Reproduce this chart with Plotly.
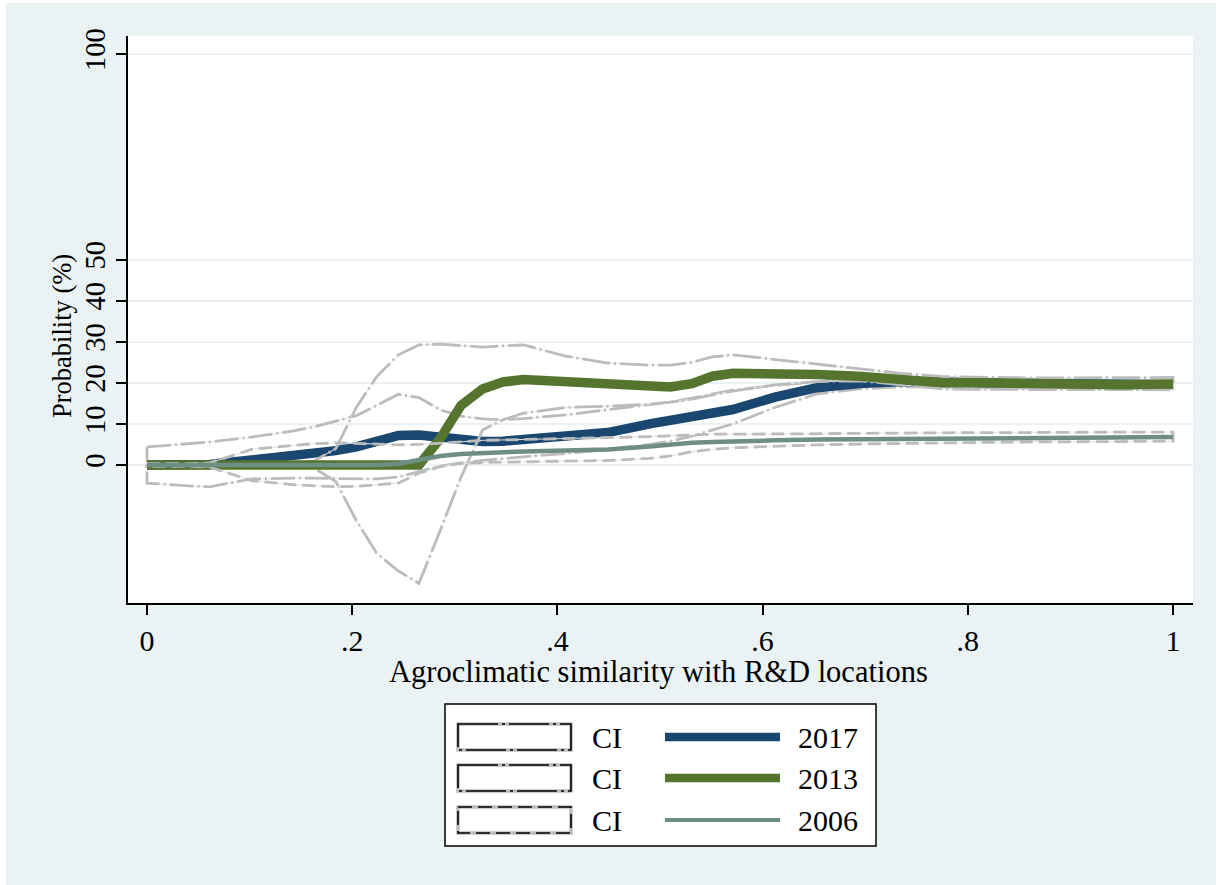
import plotly.graph_objects as go

# Agroclimatic similarity grid (x) shared by all series
X = [0, 0.041, 0.061, 0.102, 0.143, 0.163, 0.184, 0.204, 0.224, 0.245, 0.265,
     0.286, 0.306, 0.327, 0.347, 0.367, 0.408, 0.449, 0.490, 0.510, 0.531,
     0.551, 0.571, 0.612, 0.653, 0.694, 0.735, 0.776, 0.816, 0.857, 0.898,
     0.949, 1.0]

# Predicted probability (%) by year
P2017 = [0, 0, 0.1, 1.2, 2.2, 2.8, 3.5, 4.4, 5.5, 7.2, 7.3,
         6.6, 6.0, 5.7, 5.8, 6.3, 7.0, 7.9, 10.0, 10.8, 11.7,
         12.5, 13.5, 16.5, 18.8, 19.8, 20.3, 20.2, 20.0, 19.8, 19.6,
         19.5, 19.5]
P2013 = [0, 0, 0, 0, 0, 0, 0, 0, 0, 0, 0,
         6.5, 14.5, 18.5, 20.2, 20.8, 20.2, 19.7, 19.2, 19.0, 19.8,
         21.6, 22.3, 22.3, 22.0, 21.6, 20.6, 20.0, 20.0, 19.8, 19.6,
         19.5, 19.7]
P2006 = [0, 0, 0, 0, 0, 0, 0, 0, 0, 0.3, 1.3,
         2.2, 2.7, 3.0, 3.2, 3.3, 3.5, 3.8, 4.5, 5.0, 5.4,
         5.6, 5.8, 6.0, 6.2, 6.3, 6.4, 6.5, 6.6, 6.6, 6.7,
         6.7, 6.8]

# Confidence intervals (upper / lower bounds)
CI2017_HI = [4.4, 5.2, 5.6, 6.8, 8.3, 9.3, 10.6, 12.0, 14.5, 17.2, 16.4,
             13.4, 11.9, 11.2, 11.0, 11.3, 12.2, 13.5, 14.8, 15.3, 16.3,
             17.3, 18.2, 19.4, 20.2, 21.0, 21.2, 21.0, 20.8, 20.6, 20.5,
             20.4, 20.4]
CI2017_LO = [-4.4, -5.1, -5.3, -3.4, -3.2, -3.2, -3.3, -3.4, -3.4, -2.9, -1.6,
             -0.3, 0.5, 1.1, 1.6, 2.0, 2.8, 3.8, 5.0, 5.8, 7.0,
             8.5, 10.0, 14.0, 17.3, 18.5, 19.0, 19.0, 18.8, 18.6, 18.5,
             18.5, 18.5]
CI2013_HI = [0.3, 0.3, 0.3, 0.3, 0.3, 1.0, 4.0, 14.0, 21.5, 26.8, 29.2,
             29.4, 29.0, 28.7, 29.0, 29.2, 26.5, 24.8, 24.3, 24.3, 25.0,
             26.3, 26.8, 25.7, 24.5, 23.5, 22.3, 21.5, 21.3, 21.2, 21.2,
             21.2, 21.3]
CI2013_LO = [-0.3, -0.3, -0.3, -0.3, -0.3, -0.8, -4.0, -13.5, -21.5, -25.8, -28.8,
             -15.8, -3.0, 8.5, 11.0, 12.6, 14.0, 14.3, 14.8, 15.3, 16.0,
             17.0, 18.0, 19.5, 20.3, 20.5, 19.5, 18.5, 18.4, 18.4, 18.3,
             18.3, 18.3]
CI2006_HI = [0.3, 0.3, 0.5, 3.8, 4.8, 5.2, 5.4, 5.3, 5.1, 4.9, 5.0,
             5.3, 5.7, 6.0, 6.1, 6.2, 6.4, 6.6, 6.9, 7.1, 7.4,
             7.5, 7.5, 7.5, 7.6, 7.7, 7.8, 7.8, 7.9, 7.9, 8.0,
             8.0, 8.0]
CI2006_LO = [-0.3, -0.3, -0.5, -3.8, -4.8, -5.1, -5.3, -5.2, -4.8, -4.4, -2.0,
             -0.4, 0.4, 0.6, 0.7, 0.8, 1.0, 1.1, 1.6, 2.2, 3.2,
             3.8, 4.2, 4.6, 4.9, 5.1, 5.3, 5.4, 5.5, 5.6, 5.7,
             5.7, 5.8]

YEARS = ["2017", "2013", "2006"]
X_TICKS = [0, 0.2, 0.4, 0.6, 0.8, 1]
X_TICK_TEXT = ["0", ".2", ".4", ".6", ".8", "1"]
Y_TICKS = [0, 10, 20, 30, 40, 50, 100]

BG = "#EAF2F3"
GRAY = "#BCBCBC"
FONT = "Liberation Serif, Times New Roman, serif"

series = [
    (P2017, CI2017_HI, CI2017_LO, "#1A476F", 9.5, "24px,4px,2px,4px"),
    (P2013, CI2013_HI, CI2013_LO, "#55752F", 9.5, "28px,4px,2px,4px"),
    (P2006, CI2006_HI, CI2006_LO, "#6E8E84", 4.5, "13px,6px"),
]

fig = go.Figure()
for (p, hi, lo, color, width, dash), year in zip(series, YEARS):
    # CI outline: upper bound left->right, lower bound right->left, closed
    px_ = X + X[::-1] + [X[0]]
    py_ = hi + lo[::-1] + [hi[0]]
    fig.add_trace(go.Scatter(x=px_, y=py_, mode="lines",
                             line=dict(color="#E2E6E6", width=1),
                             hoverinfo="skip", showlegend=False))
    fig.add_trace(go.Scatter(x=px_, y=py_, mode="lines",
                             line=dict(color=GRAY, width=2.8, dash=dash),
                             name="CI", showlegend=False))
    fig.add_trace(go.Scatter(x=X, y=p, mode="lines",
                             line=dict(color=color, width=width),
                             name=year, showlegend=False))

# Plot-area geometry in pixels
W, H = 1222, 885
L, R, T, B = 128, 1193, 36, 603


def xp(px):
    return (px - L) / (R - L)


def yp(py):
    return (B - py) / (B - T)


shapes = []
annotations = []

# thin white border around the outer panel
for x0, y0, x1, y1 in [(0, 0, 6, H), (W - 6, 0, W, H), (0, 0, W, 3)]:
    shapes.append(dict(type="rect", xref="paper", yref="paper",
                       x0=xp(x0), x1=xp(x1), y0=yp(y0), y1=yp(y1),
                       line=dict(width=0), fillcolor="white", layer="above"))

# legend box
shapes.append(dict(type="rect", xref="paper", yref="paper",
                   x0=xp(445), x1=xp(876), y0=yp(704), y1=yp(846),
                   line=dict(color="black", width=1.5), fillcolor="white",
                   layer="above"))
row_y = [737, 778, 820]
legend_dash = ["40px,4px,3px,4px", "40px,4px,3px,4px", "14px,6px"]
for (p, hi, lo, color, width, dash), year, ry, ldash in zip(series, YEARS, row_y, legend_dash):
    shapes.append(dict(type="rect", xref="paper", yref="paper",
                       x0=xp(458), x1=xp(571), y0=yp(ry - 13), y1=yp(ry + 13),
                       line=dict(color=GRAY, width=3.5), fillcolor="white",
                       layer="above"))
    shapes.append(dict(type="rect", xref="paper", yref="paper",
                       x0=xp(458), x1=xp(571), y0=yp(ry - 13), y1=yp(ry + 13),
                       line=dict(color="black", width=1.6, dash=ldash),
                       layer="above"))
    shapes.append(dict(type="line", xref="paper", yref="paper",
                       x0=xp(665), x1=xp(780), y0=yp(ry), y1=yp(ry),
                       line=dict(color=color, width=width * 0.88),
                       layer="above"))
    annotations.append(dict(xref="paper", yref="paper", x=xp(590), y=yp(ry),
                            text="CI", showarrow=False, xanchor="left",
                            yanchor="middle",
                            font=dict(family=FONT, size=30, color="black")))
    annotations.append(dict(xref="paper", yref="paper", x=xp(796), y=yp(ry),
                            text=year, showarrow=False, xanchor="left",
                            yanchor="middle",
                            font=dict(family=FONT, size=30, color="black")))

# axis titles
annotations.append(dict(xref="paper", yref="paper", x=xp(658), y=yp(672),
                        text="Agroclimatic similarity with R&D locations",
                        showarrow=False, xanchor="center", yanchor="middle",
                        font=dict(family=FONT, size=30.5, color="black")))
annotations.append(dict(xref="paper", yref="paper", x=xp(62), y=yp(336),
                        text="Probability (%)", textangle=-90,
                        showarrow=False, xanchor="center", yanchor="middle",
                        font=dict(family=FONT, size=26.5, color="black")))

fig.update_layout(
    width=W, height=H,
    margin=dict(l=L, r=W - R, t=T, b=H - B),
    paper_bgcolor=BG, plot_bgcolor="white",
    shapes=shapes, annotations=annotations,
    showlegend=False,
    font=dict(family=FONT, size=28, color="black"),
)
fig.update_xaxes(
    range=[(L - 147) / 1026, (R - 147) / 1026],
    tickvals=X_TICKS, ticktext=X_TICK_TEXT,
    showgrid=False, zeroline=False,
    showline=True, linecolor="black", linewidth=1.8,
    ticks="outside", ticklen=10, tickwidth=1.8, tickcolor="black",
    ticklabelstandoff=0,
    tickfont=dict(family=FONT, size=30, color="black"),
)
fig.update_yaxes(
    range=[(465 - B) / 4.11, (465 - T) / 4.11],
    tickvals=Y_TICKS, tickangle=-90,
    showgrid=True, gridcolor=BG, gridwidth=2.2, zeroline=False,
    showline=True, linecolor="black", linewidth=1.8,
    ticks="outside", ticklen=10, tickwidth=1.8, tickcolor="black",
    ticklabelstandoff=0,
    tickfont=dict(family=FONT, size=28.5, color="black"),
)

fig.write_html("out.html")
